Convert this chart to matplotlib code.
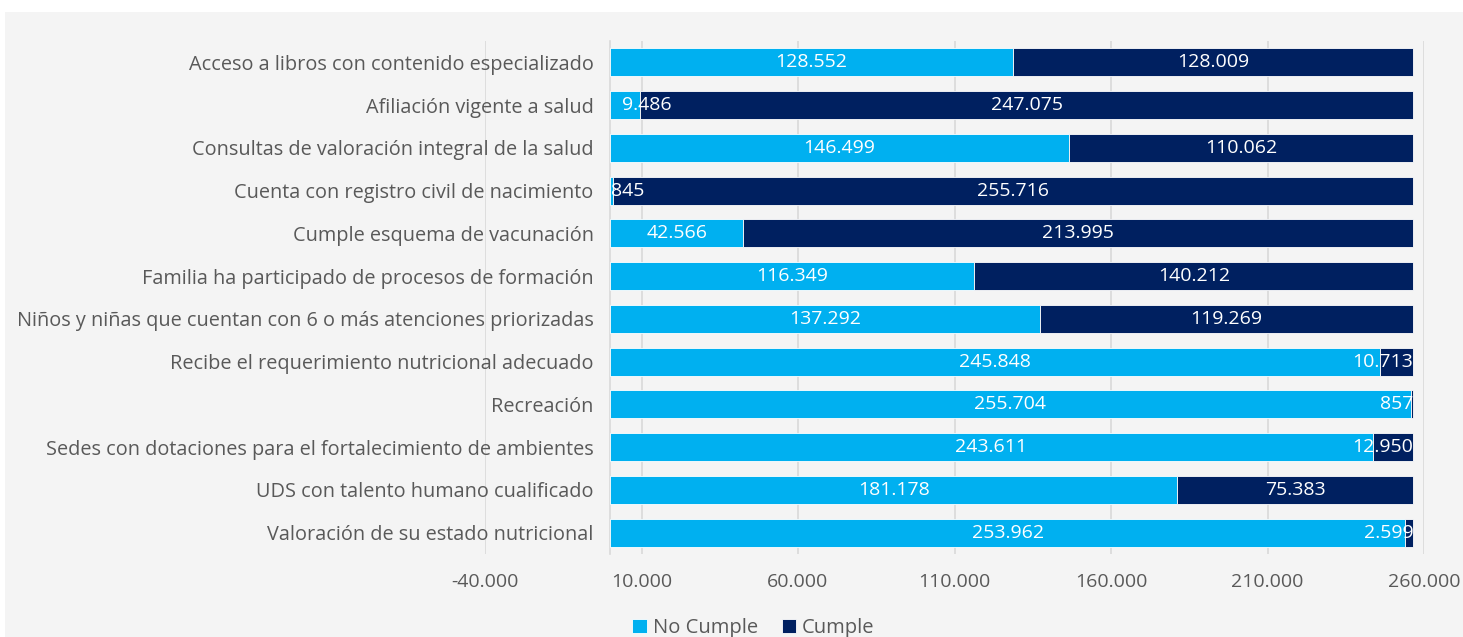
import matplotlib
matplotlib.use("Agg")
import matplotlib.pyplot as plt
from matplotlib.patches import Rectangle

categorias = [
    "Acceso a libros con contenido especializado",
    "Afiliación vigente a salud",
    "Consultas de valoración integral de la salud",
    "Cuenta con registro civil de nacimiento",
    "Cumple esquema de vacunación",
    "Familia ha participado de procesos de formación",
    "Niños y niñas que cuentan con 6 o más atenciones priorizadas",
    "Recibe el requerimiento nutricional adecuado",
    "Recreación",
    "Sedes con dotaciones para el fortalecimiento de ambientes",
    "UDS con talento humano cualificado",
    "Valoración de su estado nutricional",
]
no_cumple = [128552, 9486, 146499, 845, 42566, 116349, 137292, 245848, 255704, 243611, 181178, 253962]
cumple = [128009, 247075, 110062, 255716, 213995, 140212, 119269, 10713, 857, 12950, 75383, 2599]
ticks_x = [-40000, 10000, 60000, 110000, 160000, 210000, 260000]

AZUL_CLARO = "#00B0F0"
AZUL_OSCURO = "#002060"
GRIS_TXT = "#595959"
GRIS_LINEA = "#D9D9D9"
FUENTE = "Open Sans"


def miles(v):
    return f"{v:,}".replace(",", ".")


fig = plt.figure(figsize=(14.63, 6.37), dpi=100)
fig.patches.append(Rectangle((5 / 1463, 0), 1 - 5 / 1463, 1 - 12 / 637,
                             transform=fig.transFigure, facecolor="#F4F4F4",
                             edgecolor="none", zorder=-10))
ax = fig.add_axes([485 / 1463, 1 - 554 / 637, 939 / 1463, 513 / 637])
ax.set_facecolor("none")

y = list(range(len(categorias)))
ax.barh(y, no_cumple, height=0.66, color=AZUL_CLARO, edgecolor="white",
        linewidth=0.6, label="No Cumple", zorder=3)
ax.barh(y, cumple, left=no_cumple, height=0.66, color=AZUL_OSCURO,
        edgecolor="white", linewidth=0.6, label="Cumple", zorder=3)

for i, (a, b) in enumerate(zip(no_cumple, cumple)):
    total = a + b
    kw = dict(color="white", fontsize=14, family=FUENTE, va="center", zorder=5)
    if a < 20000:
        ax.text(a * 0.4, i, miles(a), ha="left", **kw)
    else:
        ax.text(a / 2, i, miles(a), ha="center", **kw)
    if b < 20000:
        ax.text(total, i, miles(b), ha="right", **kw)
    else:
        ax.text(a + b / 2, i, miles(b), ha="center", **kw)

ax.set_xlim(-40000, 260000)
ax.set_ylim(len(categorias) - 0.5, -0.5)
ax.set_xticks(ticks_x)
ax.set_xticklabels([miles(t) for t in ticks_x])
ax.set_yticks(y)
ax.set_yticklabels(categorias)
ax.grid(axis="x", color=GRIS_LINEA, linewidth=1.2, zorder=0)
ax.set_axisbelow(True)
for lado in ["top", "right", "bottom"]:
    ax.spines[lado].set_visible(False)
ax.spines["left"].set_position(("data", 0))
ax.spines["left"].set_color(GRIS_LINEA)
ax.spines["left"].set_linewidth(1.2)
ax.tick_params(axis="both", length=0, colors=GRIS_TXT)
ax.tick_params(axis="x", pad=14, labelsize=14)
ax.tick_params(axis="y", pad=12, labelsize=14.3)
for t in ax.get_xticklabels() + ax.get_yticklabels():
    t.set_family(FUENTE)

fig.legend(loc="center", bbox_to_anchor=(0.515, 0.014), ncol=2, frameon=False,
           handlelength=0.7, handleheight=0.7, handletextpad=0.3, columnspacing=1.2,
           prop={"family": FUENTE, "size": 14.5}, labelcolor=GRIS_TXT)

fig.savefig("out.png", dpi=100, facecolor="white")
